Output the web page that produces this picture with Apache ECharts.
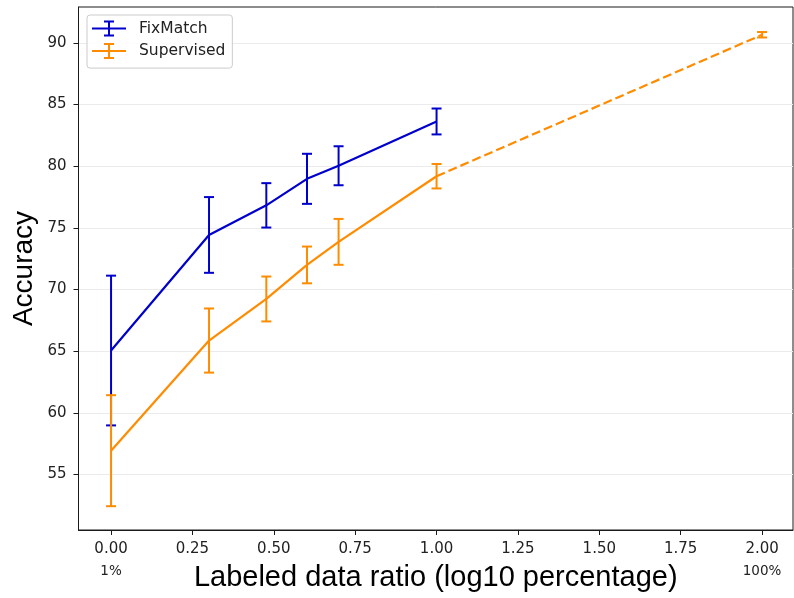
<!DOCTYPE html>
<html>
<head>
<meta charset="utf-8">
<script src="https://cdn.jsdelivr.net/npm/echarts@6/dist/echarts.min.js"></script>
<style>
html,body{margin:0;padding:0;background:#fff;}
#chart{width:794px;height:598px;}
</style>
</head>
<body>
<div id="chart"></div>
<script>
// ---- data ----
const xVals = [0, 0.301, 0.477, 0.602, 0.699, 1.0];
const fixMean = [65.05, 74.42, 76.82, 78.97, 80.03, 83.62];
const fixErr = [6.07, 3.07, 1.80, 2.03, 1.58, 1.05];
const supX = [0, 0.301, 0.477, 0.602, 0.699, 1.0, 2.0];
const supMean = [56.93, 65.86, 69.23, 71.99, 73.86, 79.18, 90.65];
const supErr = [4.50, 2.60, 1.82, 1.49, 1.86, 0.99, 0.22];
const solidCount = 6; // Supervised points drawn with solid line; last segment dashed
const xTickVals = [0, 0.25, 0.5, 0.75, 1.0, 1.25, 1.5, 1.75, 2.0];
const yTickVals = [55, 60, 65, 70, 75, 80, 85, 90];
const pctTicks = [0, 2];
const pctText = ['1%', '100%'];

const BLUE = '#0000cd';
const ORANGE = '#ff8c00';

function lineData(xs, ys) { return xs.map((x, i) => [x, ys[i]]); }
function errData(xs, ys, es) { return xs.map((x, i) => [x, ys[i] - es[i], ys[i] + es[i]]); }

function errRender(color) {
  return function (params, api) {
    const x = api.value(0), lo = api.value(1), hi = api.value(2);
    const a = api.coord([x, lo]), b = api.coord([x, hi]);
    const hw = 5;
    const st = { stroke: color, lineWidth: 2 };
    return {
      type: 'group',
      children: [
        { type: 'line', shape: { x1: a[0], y1: a[1], x2: b[0], y2: b[1] }, style: st },
        { type: 'line', shape: { x1: a[0] - hw, y1: a[1], x2: a[0] + hw, y2: a[1] }, style: st },
        { type: 'line', shape: { x1: b[0] - hw, y1: b[1], x2: b[0] + hw, y2: b[1] }, style: st }
      ]
    };
  };
}

const tickFont = 'DejaVu Sans';
const legendIcon = 'path://M0,7H34V9H0Z M16,0H18V16H16Z M12,0H22V2H12Z M12,14H22V16H12Z';

const chart = echarts.init(document.getElementById('chart'), null, { renderer: 'canvas' });
chart.setOption({
  animation: false,
  backgroundColor: '#ffffff',
  grid: {
    left: 78.5, right: 1, top: 7, bottom: 68,
    outerBoundsMode: 'none', containLabel: false,
    show: true, borderColor: '#1a1a1a', borderWidth: 1, backgroundColor: 'transparent'
  },
  legend: {
    data: ['FixMatch', 'Supervised'],
    orient: 'vertical',
    left: 87, top: 15,
    icon: legendIcon,
    itemWidth: 34, itemHeight: 16, itemGap: 6.6,
    padding: [5.5, 7, 9, 5],
    backgroundColor: 'rgba(255,255,255,0.85)',
    borderColor: '#cccccc', borderWidth: 1, borderRadius: 3,
    textStyle: { fontFamily: tickFont, fontSize: 15.5, color: '#222', lineHeight: 16, padding: [0, 0, 0, 8] },
    itemStyle: { borderWidth: 0 }
  },
  xAxis: {
    type: 'value', min: -0.1, max: 2.095,
    axisLine: { show: true, onZero: false, lineStyle: { color: '#1a1a1a', width: 1 } },
    axisTick: { show: true, length: 5, customValues: xTickVals, lineStyle: { color: '#1a1a1a' } },
    axisLabel: {
      customValues: xTickVals, margin: 10,
      formatter: function (v) {
        const j = pctTicks.indexOf(v);
        const main = '{a|' + v.toFixed(2) + '}';
        return j >= 0 ? main + '\n{b|' + pctText[j] + '}' : main;
      },
      rich: {
        a: { fontFamily: tickFont, fontSize: 15, color: '#222', lineHeight: 18 },
        b: { fontFamily: tickFont, fontSize: 13.5, color: '#222', lineHeight: 26 }
      }
    },
    splitLine: { show: false },
    name: 'Labeled data ratio (log10 percentage)',
    nameLocation: 'middle', nameGap: 33, nameMoveOverlap: false,
    nameTextStyle: { fontFamily: 'Liberation Sans', fontSize: 29, color: '#000' }
  },
  yAxis: {
    type: 'value', min: 50.5, max: 92.9,
    axisLine: { show: true, onZero: false, lineStyle: { color: '#1a1a1a', width: 1 } },
    axisTick: { show: true, length: 5, customValues: yTickVals, lineStyle: { color: '#1a1a1a' } },
    axisLabel: { customValues: yTickVals, margin: 12, fontFamily: tickFont, fontSize: 15, color: '#222' },
    splitLine: { show: true, lineStyle: { color: '#ebebeb', width: 1 } },
    name: 'Accuracy',
    nameLocation: 'middle', nameGap: 40, nameMoveOverlap: false,
    nameTextStyle: { fontFamily: 'Liberation Sans', fontSize: 28, color: '#000' }
  },
  series: [
    {
      name: 'FixMatch', type: 'line', data: lineData(xVals, fixMean),
      symbol: 'none', itemStyle: { color: BLUE }, lineStyle: { color: BLUE, width: 2.2 }
    },
    {
      name: 'FixMatch', type: 'custom', data: errData(xVals, fixMean, fixErr),
      encode: { x: 0, y: [1, 2] }, renderItem: errRender(BLUE), itemStyle: { color: BLUE }
    },
    {
      name: 'Supervised', type: 'line', data: lineData(supX.slice(0, solidCount), supMean.slice(0, solidCount)),
      symbol: 'none', itemStyle: { color: ORANGE }, lineStyle: { color: ORANGE, width: 2.2 }
    },
    {
      name: 'Supervised', type: 'line', data: lineData(supX.slice(solidCount - 1), supMean.slice(solidCount - 1)),
      symbol: 'none', itemStyle: { color: ORANGE }, lineStyle: { color: ORANGE, width: 2.2, type: [9, 4] }
    },
    {
      name: 'Supervised', type: 'custom', data: errData(supX, supMean, supErr),
      encode: { x: 0, y: [1, 2] }, renderItem: errRender(ORANGE), itemStyle: { color: ORANGE }
    }
  ]
});
</script>
</body>
</html>
